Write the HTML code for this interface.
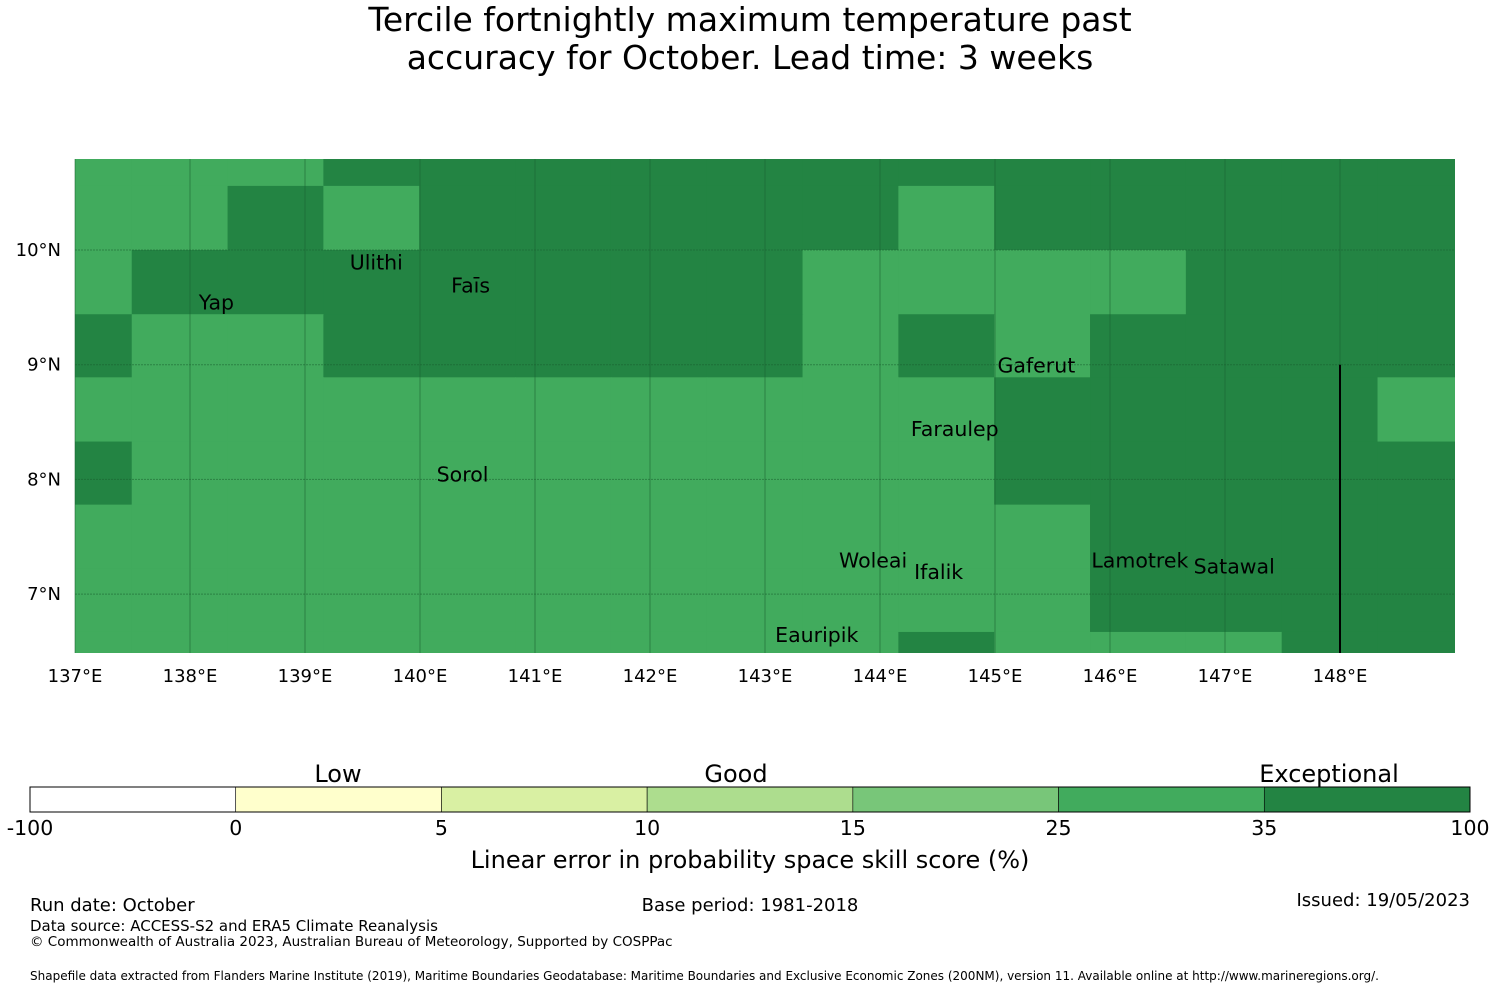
<!DOCTYPE html>
<html><head><meta charset="utf-8"><style>
body{margin:0;background:#fff;font-family:"DejaVu Sans","Liberation Sans",sans-serif;}
svg{display:block}
</style></head><body>
<svg id="c" width="1500" height="990" xmlns="http://www.w3.org/2000/svg" font-family="DejaVu Sans, Liberation Sans, sans-serif">
<text x="750" y="31" text-anchor="middle" font-size="33">Tercile fortnightly maximum temperature past</text>
<text x="750" y="69" text-anchor="middle" font-size="33">accuracy for October. Lead time: 3 weeks</text>
<g id="map"></g>
<g id="cb"></g>
<text x="338" y="782" text-anchor="middle" font-size="24">Low</text>
<text x="736" y="782" text-anchor="middle" font-size="24">Good</text>
<text x="1329" y="782" text-anchor="middle" font-size="24">Exceptional</text>
<text x="750" y="868" text-anchor="middle" font-size="24">Linear error in probability space skill score (%)</text>
<text x="30" y="911" font-size="18">Run date: October</text>
<text x="750" y="911" text-anchor="middle" font-size="18">Base period: 1981-2018</text>
<text x="1470" y="906" text-anchor="end" font-size="18">Issued: 19/05/2023</text>
<text x="30" y="931" font-size="15">Data source: ACCESS-S2 and ERA5 Climate Reanalysis</text>
<text x="30" y="946" font-size="13.5">© Commonwealth of Australia 2023, Australian Bureau of Meteorology, Supported by COSPPac</text>
<text x="30" y="980" font-size="12">Shapefile data extracted from Flanders Marine Institute (2019), Maritime Boundaries Geodatabase: Maritime Boundaries and Exclusive Economic Zones (200NM), version 11. Available online at http://www.marineregions.org/.</text>
</svg>
<script>
const NS="http://www.w3.org/2000/svg";
const cellLonStart=136.66, cellLon=0.8333;
const gridRows=[
"LLLDDDDDDDDDDDD",
"LLLDDDDDDDDDDDD",
"LLDLDDDDDLDDDDD",
"LDDDDDDDLLLLDDD",
"DLLDDDDDLDLDDDD",
"LLLLLLLLLLDDDDL",
"DLLLLLLLLLDDDDD",
"LLLLLLLLLLLDDDD",
"LLLLLLLLLLLDDDD",
"LLLLLLLLLDLLLDD"];
const scoreL=30, scoreD=45;
const lonTicks=[137,138,139,140,141,142,143,144,145,146,147,148];
const latTicks=[10,9,8,7];
const cbBounds=[-100,0,5,10,15,25,35,100];
const cbColors=["#ffffff","#ffffcc","#d9f0a3","#addd8e","#78c679","#41ab5d","#238443"];
const islands=[["Ulithi",139.62,9.9],["Fais",140.44,9.7],["Yap",138.23,9.55],["Gaferut",145.36,9.0],["Faraulep",144.65,8.45],["Sorol",140.37,8.05],["Woleai",143.94,7.3],["Ifalik",144.51,7.2],["Lamotrek",146.26,7.3],["Satawal",147.08,7.25],["Eauripik",143.45,6.65]];
const islandNames={Ulithi:"Ulithi",Fais:"Faīs",Yap:"Yap",Gaferut:"Gaferut",Faraulep:"Faraulep",Sorol:"Sorol",Woleai:"Woleai",Ifalik:"Ifalik",Lamotrek:"Lamotrek",Satawal:"Satawal",Eauripik:"Eauripik"};
const X0=75,X1=1455,Y0=159,Y1=653;
const x=lon=>75+(lon-137)*115;
const y=lat=>250+(10-lat)*114.7;
function color(v){for(let i=0;i<cbColors.length;i++){if(v<cbBounds[i+1])return cbColors[i];}return cbColors[cbColors.length-1];}
function mk(t,a,p){const e=document.createElementNS(NS,t);for(const k in a)e.setAttribute(k,a[k]);p.appendChild(e);return e;}
const map=document.getElementById('map');
const clip=mk('clipPath',{id:'mc'},map);mk('rect',{x:X0,y:Y0,width:X1-X0,height:Y1-Y0},clip);
const cells=mk('g',{'clip-path':'url(#mc)'},map);
const rowEdges=[11.0,10.56,10.0,9.44,8.89,8.33,7.78,7.22,6.67,6.11];
for(let r=1;r<gridRows.length;r++){
  const s=gridRows[r];
  for(let c=0;c<s.length;c++){
    const v=s[c]==='D'?scoreD:scoreL;
    const lon0=cellLonStart+c*cellLon;
    const top=r===1?11.2:rowEdges[r-1], bot=rowEdges[r];
    const rect=mk('rect',{x:x(lon0),y:y(top),width:cellLon*115+0.6,height:(top-bot)*114.7+0.6,fill:color(v)},cells);
    
    
  }
}
{
  const s=gridRows[0];
  for(let c=0;c<s.length;c++){
    const v=s[c]==='D'?scoreD:scoreL;
    const lon0=cellLonStart+c*cellLon;
    const rect=mk('rect',{x:x(lon0),y:y(11.2),width:cellLon*115+0.6,height:(11.2-10.56)*114.7,fill:color(v)},cells);
    
    
  }
}
const grid=mk('g',{stroke:'#1a6030','stroke-opacity':0.55,'stroke-width':1},map);
lonTicks.forEach(l=>{
  const ln=mk('line',{x1:x(l),x2:x(l),y1:Y0,y2:Y1},grid);
  
  
  const t=mk('text',{x:x(l),y:682,'text-anchor':'middle','font-size':18},map);t.textContent=l+'°E';
  
  
});
latTicks.forEach(l=>{
  const ln=mk('line',{x1:X0,x2:X1,y1:y(l),y2:y(l),'stroke-dasharray':'2,1'},grid);
  
  
  const t=mk('text',{x:61,y:y(l)+6,'text-anchor':'end','font-size':18},map);t.textContent=l+'°N';
  
  
});
const eez=mk('line',{x1:x(148),x2:x(148),y1:y(9),y2:Y1,stroke:'#000','stroke-width':2},map);


islands.forEach(([n,lo,la])=>{
  const t=mk('text',{x:x(lo),y:y(la)+8,'text-anchor':'middle','font-size':20.5},map);t.textContent=islandNames[n];
  
  
});
const cb=document.getElementById('cb');
const cw=(1470-30)/cbColors.length;
cbColors.forEach((col,i)=>{
  const r=mk('rect',{x:30+i*cw,y:787,width:cw,height:25,fill:col,stroke:'#000','stroke-width':0.6},cb);
  
  
});
mk('rect',{x:30,y:787,width:1440,height:25,fill:'none',stroke:'#000','stroke-width':1},cb);
cbBounds.forEach((b,i)=>{
  const t=mk('text',{x:30+i*cw,y:835,'text-anchor':'middle','font-size':20.5},cb);t.textContent=b;
  
  
});
</script>
</body></html>
